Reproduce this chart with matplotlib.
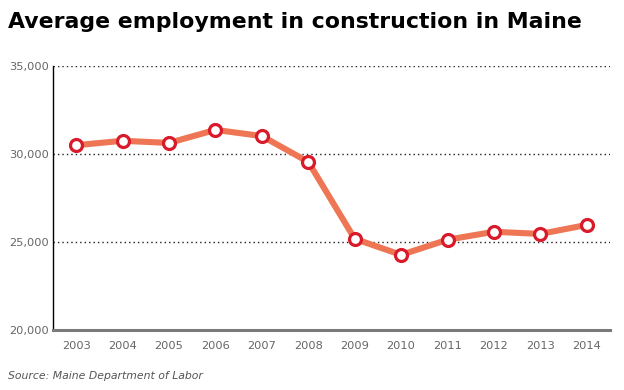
import matplotlib
matplotlib.use("Agg")
import matplotlib.pyplot as plt
from matplotlib.ticker import FuncFormatter

years = ["2003", "2004", "2005", "2006", "2007", "2008", "2009", "2010", "2011", "2012", "2013", "2014"]
employment = [30500, 30750, 30630, 31370, 31020, 29550, 25180, 24270, 25130, 25580, 25460, 25970]
yticks = [20000, 25000, 30000, 35000]

fig = plt.figure(figsize=(6.24, 3.90), dpi=100)
ax = fig.add_axes([53/624, 1-330/390, (610-53)/624, (330-66)/390])

x = list(range(len(years)))
ax.plot(x, employment, color="#ee7655", lw=4.4, solid_joinstyle="round", zorder=3)
ax.plot(x, employment, ls="none", marker="o", ms=8.6, mfc="white", mec="#d91a2a", mew=2.3, zorder=4)

ax.set_xlim(-0.5, len(years) - 0.5)
ax.set_ylim(20000, 35000)
ax.set_yticks(yticks)
ax.yaxis.set_major_formatter(FuncFormatter(lambda v, p: f"{int(v):,}"))
ax.set_xticks(x)
ax.set_xticklabels(years)

for v in yticks[1:]:
    ax.axhline(v, color="#222222", lw=1.0, ls=(0, (1, 2.2)), zorder=1)

for s in ["top", "right"]:
    ax.spines[s].set_visible(False)
ax.spines["left"].set_color("black")
ax.spines["left"].set_linewidth(1.0)
ax.spines["bottom"].set_color("#7a7a7a")
ax.spines["bottom"].set_linewidth(2.2)

ax.tick_params(axis="both", length=0, labelsize=8.2, labelcolor="#666666", pad=3)
ax.tick_params(axis="x", pad=8)

fig.text(8/624, 1-22/390, "Average employment in construction in Maine", fontsize=15.8,
         fontweight="bold", color="black", va="center", ha="left")
fig.text(8/624, 1-376/390, "Source: Maine Department of Labor", fontsize=7.8,
         style="italic", color="#555555", va="center", ha="left")

fig.savefig("out.png", dpi=100)
